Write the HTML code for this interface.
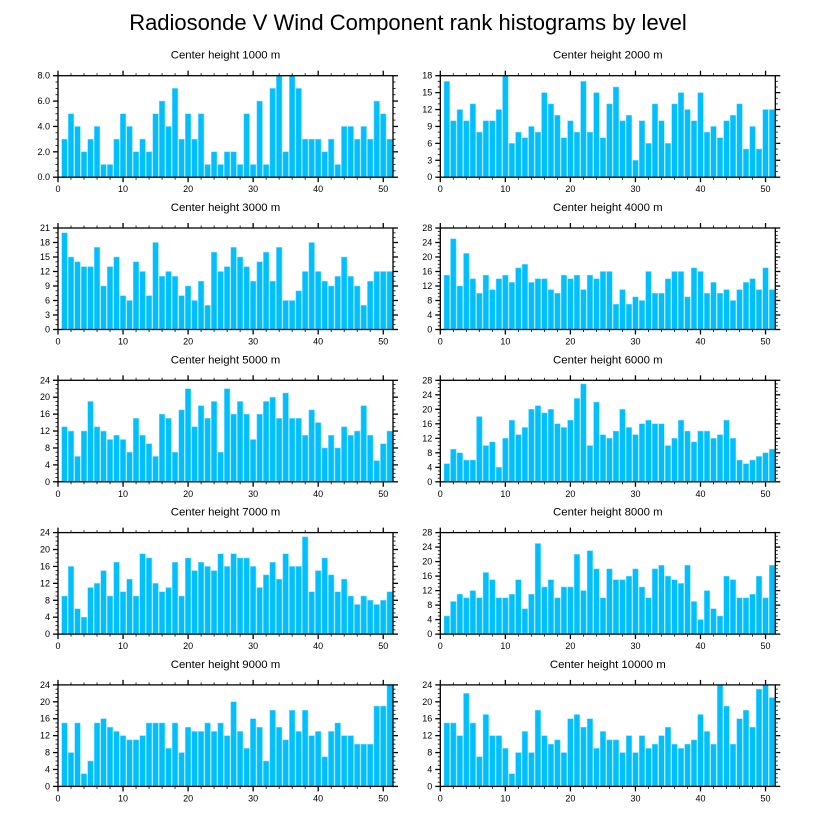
<!DOCTYPE html>
<html><head><meta charset="utf-8"><style>
html,body{margin:0;padding:0;background:#fff;}
svg{display:block;font-family:"Liberation Sans",Arial,sans-serif;}
</style></head><body>
<svg id="chart" width="818" height="824" viewBox="0 0 818 824">
<text x="408" y="30" text-anchor="middle" font-size="22" fill="#000">Radiosonde V Wind Component rank histograms by level</text>
</svg>
<script>
const levels = ["1000","2000","3000","4000","5000","6000","7000","8000","9000","10000"];
const yMaxes = [8,18,21,28,24,28,24,28,24,24];
const yStepsList = [2,3,3,4,4,4,4,4,4,4];
const xTicks = [0,10,20,30,40,50];
const v1000 = [3,5,4,2,3,4,1,1,3,5,4,2,3,2,5,6,4,7,3,5,3,5,1,2,1,2,2,1,5,1,6,1,7,8,2,8,7,3,3,3,2,3,1,4,4,3,4,3,6,5,3];
const v2000 = [17,10,12,10,13,8,10,10,12,18,6,8,7,9,8,15,13,11,7,10,8,17,8,15,7,13,16,10,11,3,10,6,13,10,6,13,15,12,10,15,8,9,7,10,11,13,5,9,5,12,12];
const v3000 = [20,15,14,13,13,17,9,13,15,7,6,14,12,7,18,11,12,11,7,9,6,10,5,16,12,13,17,15,13,10,14,16,10,17,6,6,8,12,18,12,10,9,11,15,11,9,5,10,12,12,12];
const v4000 = [15,25,12,21,14,10,15,11,14,15,13,17,18,13,14,14,11,10,15,14,15,11,15,14,16,16,7,11,7,9,8,16,10,10,14,16,16,9,17,16,10,13,10,11,8,11,13,14,11,17,11];
const v5000 = [13,12,6,12,19,13,12,10,11,10,7,15,11,9,6,16,15,7,17,22,13,18,15,19,7,22,16,19,16,10,16,19,20,15,21,15,15,11,17,14,8,11,8,13,11,12,18,11,5,9,12];
const v6000 = [5,9,8,6,6,18,10,11,4,12,17,13,15,20,21,19,20,16,15,17,23,27,10,22,13,12,14,20,15,13,16,17,16,16,10,12,17,14,11,14,14,12,13,17,12,6,5,6,7,8,9];
const v7000 = [9,16,6,4,11,12,15,9,17,10,13,9,19,18,12,10,11,17,9,18,15,17,16,15,19,16,19,18,18,16,11,14,17,13,19,16,16,23,10,15,18,14,10,13,9,7,9,8,7,8,10];
const v8000 = [5,9,11,10,12,10,17,15,10,10,11,15,7,11,25,13,15,10,13,13,22,12,23,18,10,18,15,15,16,18,13,10,18,19,16,15,14,19,9,4,12,7,5,16,15,10,10,11,16,10,19];
const v9000 = [15,8,15,3,6,15,16,14,13,12,11,11,12,15,15,15,9,15,8,14,13,13,15,13,15,12,20,13,9,16,14,6,18,14,11,18,13,18,12,13,7,13,15,12,12,10,10,10,19,19,24];
const v10000 = [15,15,12,22,15,7,17,12,12,9,3,8,13,8,18,12,10,11,8,16,17,14,16,9,13,11,11,8,12,8,12,9,10,12,14,10,9,10,11,17,13,10,24,19,10,16,18,14,23,24,21];
const series = [v1000,v2000,v3000,v4000,v5000,v6000,v7000,v8000,v9000,v10000];

const NS = "http://www.w3.org/2000/svg";
const svg = document.getElementById("chart");
function mk(tag, attrs, parent){ const e=document.createElementNS(NS,tag); for(const k in attrs) e.setAttribute(k,attrs[k]); parent.appendChild(e); return e; }
const PW = 335, PH = 101.5, XMAX = 51.5;
for (let p=0;p<10;p++){
  const col=p%2, row=Math.floor(p/2);
  const x0 = col===0 ? 58 : 440.3;
  const y0 = 75.7 + row*152.3;
  const ymax = yMaxes[p], ystep = yStepsList[p], vals = series[p];
  const g = mk("g",{},svg);
  
  
  const sx = v => x0 + v/XMAX*PW;
  const sy = v => y0 + PH - v/ymax*PH;
  const t = mk("text",{x:x0+PW/2,y:y0-17,"text-anchor":"middle","font-size":"11.4",fill:"#000"},g);
  t.textContent = "Center height " + levels[p] + " m";
  
  
  const bw = 0.86;
  vals.forEach((v,i)=>{
    const c=i+1;
    const r = mk("rect",{x:sx(c-bw/2),y:sy(v),width:sx(c+bw/2)-sx(c-bw/2),height:sy(0)-sy(v),fill:"#00bfff",stroke:"#7fdcff","stroke-width":"0.5"},g);
    
    
  });
  const fr = mk("rect",{x:x0,y:y0,width:PW,height:PH,fill:"none",stroke:"#000","stroke-width":"1.3"},g);
  
  
  for (let v=0; v<=XMAX; v+=2){
    const major = v%10===0, L = major?5:2.5;
    mk("line",{x1:sx(v),x2:sx(v),y1:y0+PH,y2:y0+PH+L,stroke:"#000","stroke-width":major?1.3:0.8},g);
    mk("line",{x1:sx(v),x2:sx(v),y1:y0,y2:y0-L,stroke:"#000","stroke-width":major?1.3:0.8},g);
  }
  xTicks.forEach(v=>{
    const tl = mk("text",{x:sx(v),y:y0+PH+15,"text-anchor":"middle","font-size":"9",fill:"#000"},g);
    tl.textContent = v;
    
    
  });
  const minor = ystep/ (ystep===2?4:ystep);
  for (let k=0; k<=Math.round(ymax/minor); k++){
    const v=k*minor, major = Math.abs(v/ystep-Math.round(v/ystep))<1e-6, L = major?5:2.5;
    mk("line",{x1:x0,x2:x0-L,y1:sy(v),y2:sy(v),stroke:"#000","stroke-width":major?1.3:0.8},g);
    mk("line",{x1:x0+PW,x2:x0+PW+L,y1:sy(v),y2:sy(v),stroke:"#000","stroke-width":major?1.3:0.8},g);
  }
  for (let v=0; v<=ymax; v+=ystep){
    const tl = mk("text",{x:x0-8,y:sy(v)+3,"text-anchor":"end","font-size":"9",fill:"#000"},g);
    tl.textContent = ymax===8 ? v.toFixed(1) : v;
    
    
  }
}
</script>
</body></html>
